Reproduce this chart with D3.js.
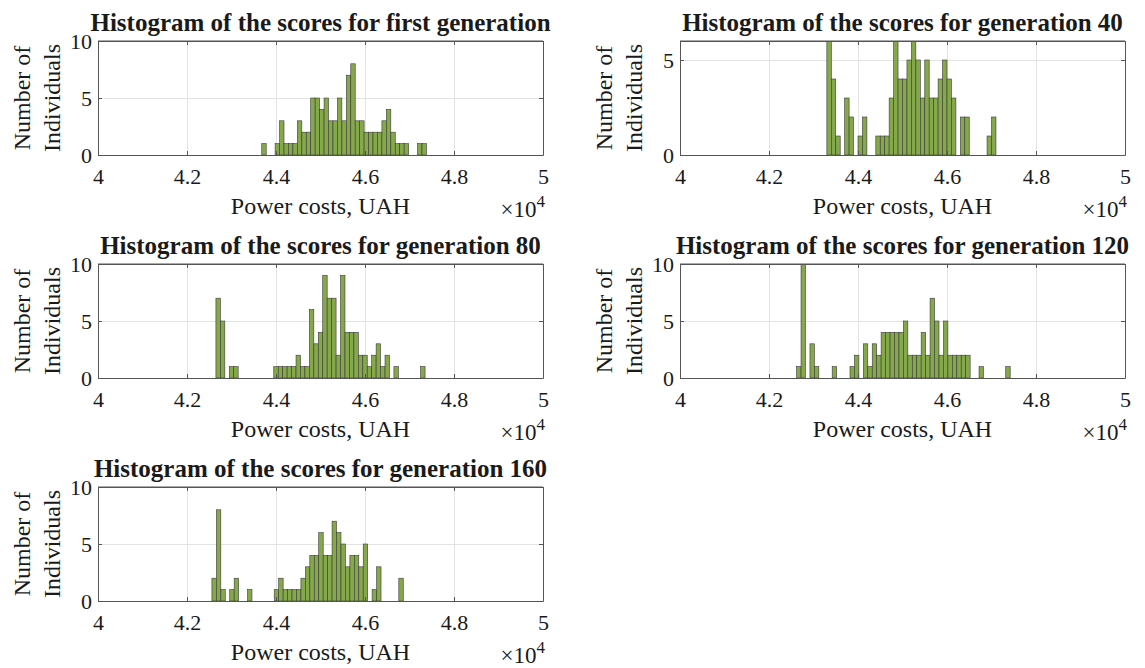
<!DOCTYPE html>
<html>
<head>
<meta charset="utf-8">
<script src="https://cdn.jsdelivr.net/npm/d3@7"></script>
<style>
  html, body { margin: 0; padding: 0; background: #fff; }
  svg { display: block; }
  text { font-family: "Liberation Serif", "Times New Roman", serif; fill: #1a1a1a; }
  .frame path.domain { stroke: #555; stroke-width: 1; }
  .frame line { stroke: #555; stroke-width: 1; }
  .grid line { stroke: #e3e3e3; stroke-width: 1; }
  .grid path.domain { display: none; }
</style>
</head>
<body>
<svg id="chart" width="1145" height="668"></svg>
<script>
// Histogram panel titles
const panelTitles = [
  "Histogram of the scores for first generation",
  "Histogram of the scores for generation 40",
  "Histogram of the scores for generation 80",
  "Histogram of the scores for generation 120",
  "Histogram of the scores for generation 160"
];

// Common axis settings (power costs, UAH)
const xDomain = [40000, 50000];
const xTickValues = [40000, 42000, 44000, 46000, 48000, 50000];
const xTickLabels = ["4", "4.2", "4.4", "4.6", "4.8", "5"];
const binWidth = 100;

// Left edge of the first bin for each panel
const binStarts = [43680, 43300, 42650, 42620, 42560];

// Upper y limit and y ticks for each panel
const yLimits = [10, 6, 10, 10, 10];
const yTickValues = [0, 5, 10];

// Number of individuals in each cost bin
const gen1Counts = [1,0,0,1,3,1,1,1,3,2,2,5,5,4,5,3,3,5,3,7,8,3,3,2,2,2,2,3,4,2,1,1,1,0,0,1,1];
const gen40Counts = [6,4,1,0,3,2,0,1,2,0,0,1,1,1,3,6,4,4,5,6,5,3,5,3,3,4,5,4,3,0,2,2,0,0,0,0,1,2];
const gen80Counts = [7,5,0,1,1,0,0,0,0,0,0,0,0,1,1,1,1,1,2,1,1,6,3,4,9,7,7,2,9,4,4,4,2,2,1,2,3,1,2,0,1,0,0,0,0,0,1];
const gen120Counts = [1,10,0,3,1,0,0,0,1,0,0,0,1,2,0,3,1,3,2,4,4,4,4,4,5,2,2,2,4,2,7,5,2,5,2,2,2,2,2,0,0,1,0,0,0,0,0,1];
const gen160Counts = [2,8,1,0,1,2,0,0,1,0,0,0,0,0,1,2,1,1,1,1,2,3,4,4,6,4,4,7,6,5,3,4,4,3,5,0,1,3,0,0,0,0,2];

const allCounts = [gen1Counts, gen40Counts, gen80Counts, gen120Counts, gen160Counts];

const xLabelText = "Power costs, UAH";
const yLabelLines = ["Number of", "Individuals"];

// ---- layout ----
const serif = '"Liberation Serif", "Times New Roman", serif';
const svg = d3.select("#chart");
svg.append("rect").attr("width", 1145).attr("height", 668).attr("fill", "#fff");

const plotW = 445, plotH = 114;
const colX = [98, 680];
const rowY = [41, 264, 487];

panelTitles.forEach((title, p) => {
  const left = colX[p % 2];
  const top = rowY[Math.floor(p / 2)];
  const g = svg.append("g").attr("transform", `translate(${left},${top})`);

  const x = d3.scaleLinear().domain(xDomain).range([0, plotW]);
  const y = d3.scaleLinear().domain([0, yLimits[p]]).range([plotH, 0]);
  const yTicks = yTickValues.filter(v => v <= yLimits[p]);

  // grid
  g.append("g").attr("class", "grid")
    .attr("transform", `translate(0,${plotH})`)
    .call(d3.axisBottom(x).tickValues(xTickValues.slice(1, -1)).tickSize(-plotH).tickFormat(""));
  g.append("g").attr("class", "grid")
    .call(d3.axisLeft(y).tickValues(yTicks.filter(v => v > 0 && v < yLimits[p])).tickSize(-plotW).tickFormat(""));

  // bars
  const clipId = `clip${p}`;
  g.append("clipPath").attr("id", clipId)
    .append("rect").attr("width", plotW).attr("height", plotH);

  const start = binStarts[p];
  const bins = allCounts[p].map((c, i) => ({
    x0: start + i * binWidth,
    x1: start + (i + 1) * binWidth,
    count: c
  })).filter(b => b.count > 0);

  g.append("g").attr("clip-path", `url(#${clipId})`)
    .selectAll("rect")
    .data(bins)
    .join("rect")
    .attr("x", d => x(d.x0))
    .attr("width", d => x(d.x1) - x(d.x0))
    .attr("y", d => y(d.count))
    .attr("height", d => y(0) - y(d.count))
    .attr("fill", "#84a84a")
    .attr("stroke", "#3a3a3a")
    .attr("stroke-width", 0.6);

  // frame with inward ticks
  const fontTick = "22px";
  const bottom = g.append("g").attr("class", "frame")
    .attr("transform", `translate(0,${plotH})`)
    .call(d3.axisBottom(x).tickValues(xTickValues)
      .tickFormat((d, i) => xTickLabels[i])
      .tickSizeInner(-4).tickSizeOuter(0).tickPadding(13));
  bottom.attr("font-family", serif);
  bottom.selectAll("text").attr("font-family", serif).style("font-family", serif)
    .style("font-size", fontTick).attr("fill", "#1a1a1a");

  g.append("g").attr("class", "frame")
    .call(d3.axisTop(x).tickValues(xTickValues).tickFormat("")
      .tickSizeInner(-4).tickSizeOuter(0));

  const leftAx = g.append("g").attr("class", "frame")
    .call(d3.axisLeft(y).tickValues(yTicks)
      .tickFormat(d3.format("d"))
      .tickSizeInner(-4).tickSizeOuter(0).tickPadding(6));
  leftAx.attr("font-family", serif);
  leftAx.selectAll("text").attr("font-family", serif).style("font-family", serif)
    .style("font-size", fontTick).attr("fill", "#1a1a1a");

  g.append("g").attr("class", "frame")
    .attr("transform", `translate(${plotW},0)`)
    .call(d3.axisRight(y).tickValues(yTicks).tickFormat("")
      .tickSizeInner(-4).tickSizeOuter(0));

  // top edge
  g.append("line").attr("x1", 0).attr("x2", plotW).attr("y1", 0).attr("y2", 0)
    .attr("stroke", "#555").attr("stroke-width", 1);

  // title
  g.append("text")
    .attr("x", plotW / 2).attr("y", -10)
    .attr("text-anchor", "middle")
    .style("font-size", "25px").style("font-weight", "bold")
    .attr("fill", "#000")
    .text(title);

  // x label
  g.append("text")
    .attr("x", plotW / 2).attr("y", plotH + 59)
    .attr("text-anchor", "middle")
    .style("font-size", "24px")
    .text(xLabelText);

  // exponent
  const ex = g.append("text")
    .attr("x", plotW + 2).attr("y", plotH + 62)
    .attr("text-anchor", "end")
    .style("font-size", "23px");
  ex.append("tspan").text("\u00d710");
  ex.append("tspan").attr("dy", -10).style("font-size", "17px").text("4");

  // y label (two lines)
  const yl = g.append("text")
    .attr("transform", `translate(-68,${plotH / 2}) rotate(-90)`)
    .attr("text-anchor", "middle")
    .style("font-size", "24px");
  yl.append("tspan").attr("x", 0).attr("y", 0).text(yLabelLines[0]);
  yl.append("tspan").attr("x", 0).attr("y", 30).text(yLabelLines[1]);
});
</script>
</body>
</html>
